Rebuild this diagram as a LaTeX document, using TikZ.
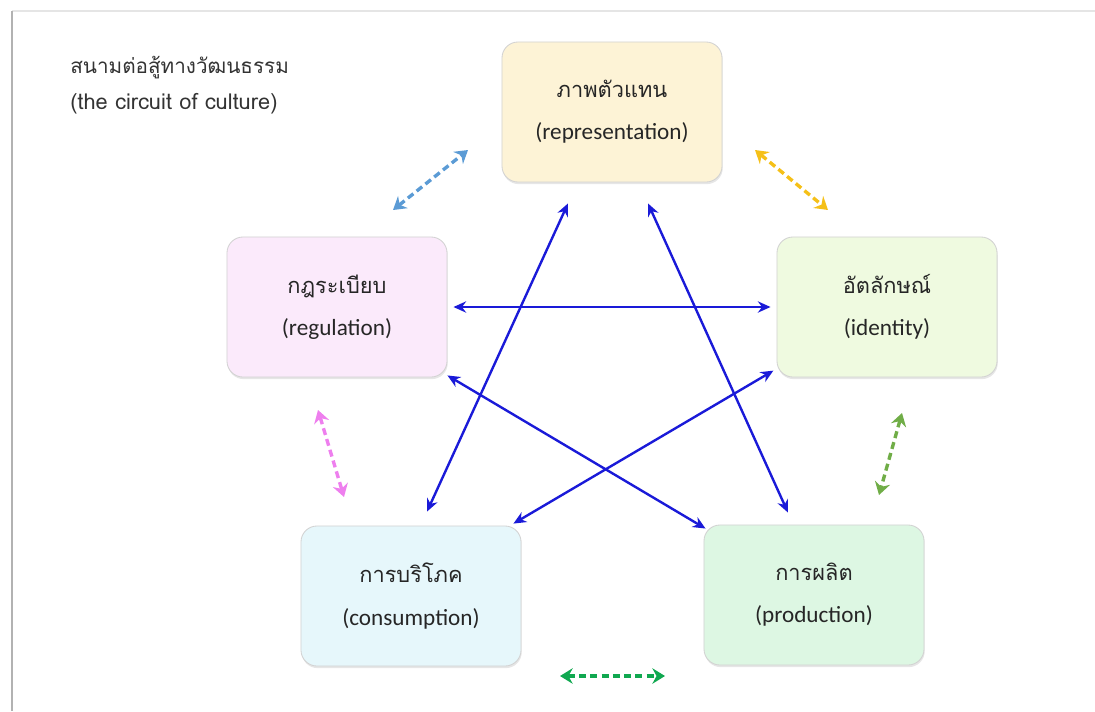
\documentclass[tikz,border=0pt]{standalone}
\usepackage{fontspec}
\setmainfont{Carlito}
\newfontfamily\thai[Script=Thai]{Loma}
\usetikzlibrary{arrows.meta,shadows}

\tikzstyle{block} = [rectangle, draw=gray!35, line width=0.6pt, rounded corners=0.4cm, minimum width=5.5cm, minimum height=3.5cm, align=center, text=black!85, font=\fontsize{16.5}{30}\selectfont, drop shadow={shadow xshift=0.5pt, shadow yshift=-1.5pt, opacity=0.2, fill=gray}]

\definecolor{repfill}{HTML}{FDF3D6}
\definecolor{regfill}{HTML}{FBEAFB}
\definecolor{idfill}{HTML}{EFFAE0}
\definecolor{consfill}{HTML}{E6F7FB}
\definecolor{prodfill}{HTML}{DDF7E3}
\definecolor{linkblue}{HTML}{1A1AD8}
\definecolor{swapblue}{HTML}{5B9BD5}
\definecolor{swaporange}{HTML}{F5C018}
\definecolor{swappink}{HTML}{EE7FEE}
\definecolor{swapolive}{HTML}{70AD47}
\definecolor{swapgreen}{HTML}{10A850}

\begin{document}
\begin{tikzpicture}[x=0.025cm, y=-0.025cm]
        \tikzset{link/.style = {linkblue, line width=1.7pt, {Stealth[length=9pt,width=8pt]}-{Stealth[length=9pt,width=8pt]}},
                 swap/.style = {#1, line width=2.4pt, dash pattern=on 5pt off 3pt, {Stealth[length=9pt,width=11pt,inset=3pt]}-{Stealth[length=9pt,width=11pt,inset=3pt]}}}
        \useasboundingbox (0,0) rectangle (1095,711);
        % page frame
        \draw[gray!20, line width=1pt] (12,11) -- (1095,11);
        \draw[gray!60, line width=1.2pt] (12,711) -- (12,11);
        % title
        \node (title) at (70,68) [anchor=west, inner sep=0pt, text=black!80, font=\thai\fontsize{14.7}{16}\selectfont] {สนามต่อสู้ทางวัฒนธรรม};
        \node (subtitle) at (70,104) [anchor=west, inner sep=0pt, text=black!80, font=\thai\fontsize{15.5}{16}\selectfont] {(the circuit of culture)};
        % the five moments
        \node (rep) at (612,112) [block, fill=repfill] {{\thai\fontsize{15.5}{30}\selectfont ภาพตัวแทน}\\(representation)};
        \node (reg) at (337,307) [block, fill=regfill] {{\thai\fontsize{15.5}{30}\selectfont กฎระเบียบ}\\(regulation)};
        \node (ident) at (887,307) [block, fill=idfill] {{\thai\fontsize{15.5}{30}\selectfont อัตลักษณ์}\\(identity)};
        \node (cons) at (411,596) [block, fill=consfill] {{\thai\fontsize{15.5}{30}\selectfont การบริโภค}\\(consumption)};
        \node (prod) at (814,595) [block, fill=prodfill] {{\thai\fontsize{15.5}{30}\selectfont การผลิต}\\(production)};
        % links across the circuit
        \draw[link, shorten <=0.15cm, shorten >=0.15cm] (reg.east) -- (ident.west);
        \draw[link] ([xshift=-1.1cm,yshift=-0.525cm]rep.south) -- ([xshift=0.4cm,yshift=0.35cm]cons.north);
        \draw[link] ([xshift=0.9cm,yshift=-0.525cm]rep.south) -- ([xshift=-0.65cm,yshift=0.3cm]prod.north);
        \draw[link] ([yshift=0.05cm]reg.south east) -- ([xshift=0.05cm,yshift=-0.1cm]prod.north west);
        \draw[link] ([xshift=-0.08cm,yshift=0.17cm]ident.south west) -- ([xshift=-0.2cm,yshift=0.05cm]cons.north east);
        % links round the circuit
        \coordinate (a1) at (393,210); \coordinate (a2) at (468,150);
        \coordinate (b1) at (755,150); \coordinate (b2) at (828,210);
        \coordinate (c1) at (318,410); \coordinate (c2) at (344,497);
        \coordinate (d1) at (902,413); \coordinate (d2) at (879,495);
        \coordinate (e1) at (560,676); \coordinate (e2) at (665,676);
        \draw[swap=swapblue] (a1) -- (a2);
        \draw[swap=swaporange] (b1) -- (b2);
        \draw[swap=swappink] (c1) -- (c2);
        \draw[swap=swapolive] (d1) -- (d2);
        \draw[swap=swapgreen] (e1) -- (e2);
\end{tikzpicture}
\end{document}
